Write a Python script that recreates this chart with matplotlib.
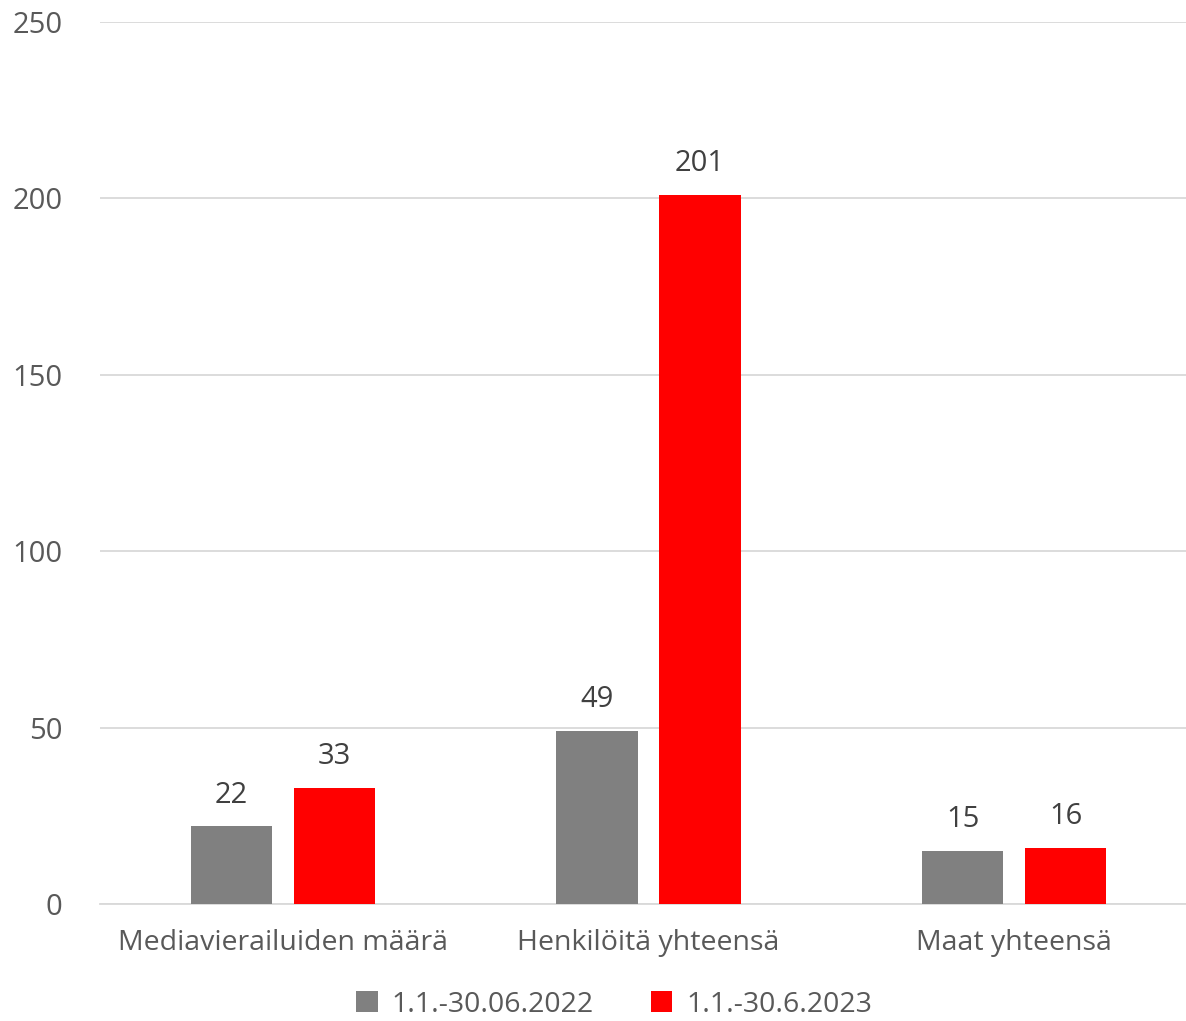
import matplotlib
matplotlib.use("Agg")
import matplotlib.pyplot as plt
import numpy as np

categories = ["Mediavierailuiden määrä", "Henkilöitä yhteensä", "Maat yhteensä"]
series_names = ["1.1.-30.06.2022", "1.1.-30.6.2023"]
values_2022 = [22, 49, 15]
values_2023 = [33, 201, 16]
yticks = [0, 50, 100, 150, 200, 250]

plt.rcParams['font.family'] = ['Open Sans', 'DejaVu Sans']
txt = '#595959'

fig = plt.figure(figsize=(11.86, 10.21), dpi=100)
ax = fig.add_axes([100 / 1186, 117 / 1021, 1097 / 1186, 882 / 1021])

x = np.arange(len(categories))
w = 0.222
off = 0.141
b1 = ax.bar(x - off, values_2022, w, color='#808080', label=series_names[0], zorder=3)
b2 = ax.bar(x + off, values_2023, w, color='#FF0000', label=series_names[1], zorder=3)

for bars, vals in ((b1, values_2022), (b2, values_2023)):
    for r, v in zip(bars, vals):
        ax.annotate(str(v), (r.get_x() + r.get_width() / 2, v), xytext=(0, 12),
                    textcoords='offset points', ha='center', va='bottom',
                    fontsize=21, color='#404040')

ax.set_xlim(-0.5, 2.5)
ax.set_ylim(0, 250)
ax.set_yticks(yticks)
ax.set_yticklabels([str(t) for t in yticks], fontsize=21, color=txt)
ax.set_xticks(x)
ax.set_xticklabels(categories, fontsize=20.5, color=txt)
ax.tick_params(axis='both', length=0)
ax.tick_params(axis='y', pad=27)
ax.tick_params(axis='x', pad=18)
ax.grid(axis='y', color='#D9D9D9', linewidth=1.3, zorder=0)
for s in ['top', 'right', 'left']:
    ax.spines[s].set_visible(False)
ax.spines['bottom'].set_color('#D9D9D9')
ax.spines['bottom'].set_linewidth(1.3)

leg = fig.legend(handles=[b1, b2], loc='center', bbox_to_anchor=(0.518, 0.016),
                 ncol=2, frameon=False, fontsize=20.5, handlelength=0.75, handleheight=0.75,
                 columnspacing=2.0, handletextpad=0.5, borderpad=0)
for t in leg.get_texts():
    t.set_color(txt)

fig.savefig("out.png", dpi=100)
